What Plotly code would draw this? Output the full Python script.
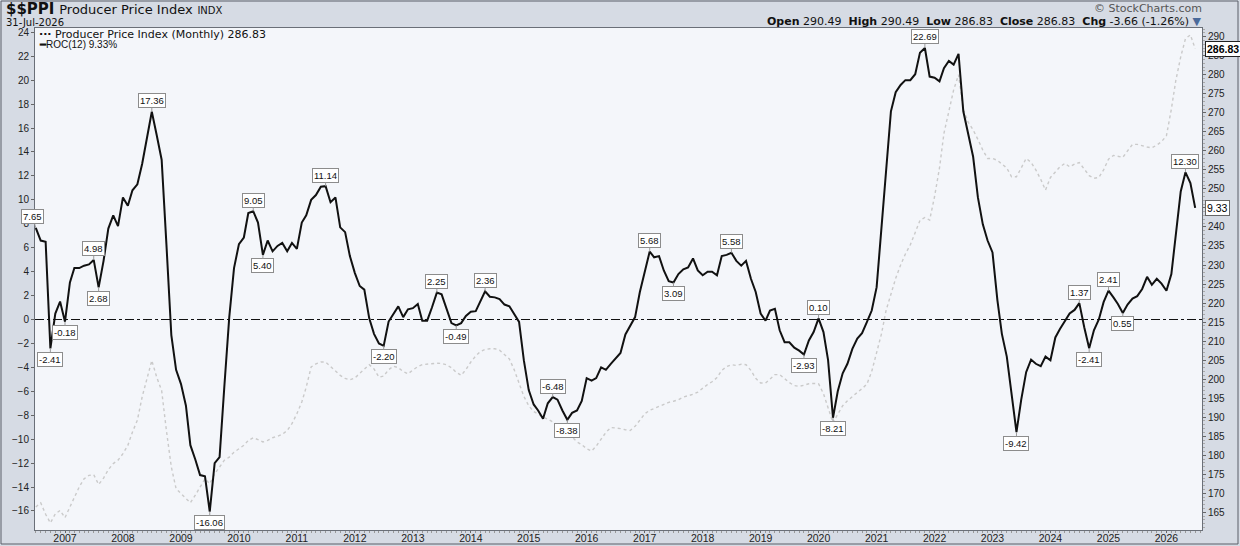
"""
$$PPI monthly chart: ROC(12) of the Producer Price Index (left axis, black)
with the index itself as a faint dotted line on the right axis.
"""

import pandas as pd
import plotly.graph_objects as go

START = "2006-07-01"

# ROC(12) in %, one value per month, Jul 2006 .. Jul 2026
ROC_2006 = [7.65, 6.6, 6.5, -2.41, 0.5, 1.5]
ROC_2007 = [-0.18, 3.1, 4.3, 4.3, 4.5, 4.6, 4.98, 2.68, 4.9, 7.6, 8.7, 7.8]
ROC_2008 = [10.2, 9.5, 10.8, 11.3, 13.0, 15.2, 17.36, 15.4, 13.35, 6.3, -1.3, -4.2]
ROC_2009 = [-5.4, -7.2, -10.5, -11.7, -13.0, -13.1, -16.06, -12.0, -11.5, -5.6, 0.2, 4.3]
ROC_2010 = [6.3, 6.85, 8.9, 9.05, 8.1, 5.40, 6.6, 5.7, 6.15, 6.4, 5.7, 6.4]
ROC_2011 = [5.9, 8.1, 8.7, 10.0, 10.4, 11.1, 11.14, 9.8, 10.2, 7.7, 7.3, 5.3]
ROC_2012 = [3.9, 2.8, 2.5, 0.1, -1.2, -2.0, -2.20, -0.17, 0.5, 1.1, 0.2, 0.85]
ROC_2013 = [0.95, 1.3, -0.1, -0.1, 1.0, 2.25, 2.1, 0.9, -0.3, -0.49, -0.3, 0.3]
ROC_2014 = [0.65, 0.7, 1.45, 2.36, 1.9, 1.85, 1.7, 1.25, 1.1, 0.5, -0.2, -3.4]
ROC_2015 = [-5.9, -7.1, -7.6, -8.3, -7.0, -6.48, -6.7, -7.6, -8.38, -7.8, -7.6, -6.8]
ROC_2016 = [-4.9, -5.1, -4.9, -4.0, -4.2, -3.7, -3.3, -2.8, -1.25, -0.5, 0.2, 2.3]
ROC_2017 = [4.0, 5.68, 5.2, 5.3, 4.1, 3.2, 3.09, 3.8, 4.2, 4.35, 5.1, 4.1]
ROC_2018 = [3.7, 4.0, 4.0, 3.7, 5.3, 5.4, 5.58, 4.9, 4.5, 4.9, 3.4, 2.3]
ROC_2019 = [0.5, -0.1, 0.75, 0.9, -0.9, -1.9, -1.9, -2.35, -2.6, -2.93, -1.75, -1.05]
ROC_2020 = [0.10, -1.05, -3.4, -8.21, -6.0, -4.5, -3.7, -2.45, -1.6, -1.15, -0.2, 0.75]
ROC_2021 = [2.7, 7.9, 12.9, 17.4, 19.0, 19.6, 20.0, 20.0, 20.5, 22.3, 22.69, 20.3]
ROC_2022 = [20.2, 19.9, 21.0, 21.6, 21.3, 22.2, 17.4, 15.4, 13.6, 10.2, 7.95, 6.6]
ROC_2023 = [5.6, 1.6, -1.2, -3.1, -6.2, -9.42, -6.7, -4.4, -3.35, -3.7, -3.9, -3.1]
ROC_2024 = [-3.4, -1.5, -0.8, -0.1, 0.5, 0.8, 1.37, -0.65, -2.41, -0.9, 0.0, 1.45]
ROC_2025 = [2.41, 1.85, 1.3, 0.55, 1.25, 1.75, 1.95, 2.55, 3.57, 2.9, 3.4, 3.0]
ROC_2026 = [2.4, 3.8, 7.1, 10.7, 12.30, 11.4, 9.33]

# Producer Price Index level, same months
PPI_2006 = [166.4, 167.5, 164.5, 162.2, 164.6, 165.5]
PPI_2007 = [163.6, 166.4, 168.6, 171.7, 173.8, 174.7, 174.9, 172.3, 174.0, 176.2, 177.8, 178.7]
PPI_2008 = [180.4, 182.6, 186.1, 189.2, 195.3, 200.1, 204.9, 200.5, 197.0, 186.5, 176.9, 171.2]
PPI_2009 = [169.9, 168.6, 167.5, 169.5, 171.7, 173.8, 172.5, 175.1, 176.9, 178.7, 179.5, 180.8]
PPI_2010 = [181.7, 182.6, 183.9, 184.6, 184.1, 183.5, 183.9, 184.6, 185.0, 185.5, 186.5, 188.3]
PPI_2011 = [190.9, 194.0, 197.9, 203.2, 204.0, 204.5, 204.5, 203.3, 201.9, 201.0, 200.2, 199.8]
PPI_2012 = [200.3, 201.5, 202.8, 203.8, 202.7, 200.5, 200.8, 202.5, 203.4, 203.0, 202.0, 201.4]
PPI_2013 = [202.4, 203.3, 203.8, 204.0, 204.0, 204.2, 204.1, 203.8, 203.0, 201.8, 201.0, 202.5]
PPI_2014 = [204.5, 206.1, 207.2, 207.8, 208.0, 208.0, 207.6, 206.5, 205.3, 202.5, 199.2, 195.5]
PPI_2015 = [193.0, 191.5, 190.8, 190.0, 189.5, 188.8, 188.0, 186.5, 185.7, 184.8, 183.5, 182.8]
PPI_2016 = [181.7, 181.1, 182.4, 184.1, 186.0, 187.3, 187.2, 187.0, 186.7, 186.5, 187.6, 189.3]
PPI_2017 = [190.9, 191.8, 192.3, 193.0, 193.5, 193.9, 194.2, 194.6, 195.3, 195.6, 196.0, 196.6]
PPI_2018 = [197.7, 198.6, 199.3, 200.4, 202.3, 203.3, 203.8, 203.6, 203.9, 203.8, 202.3, 200.2]
PPI_2019 = [199.0, 199.0, 200.0, 201.2, 201.2, 200.0, 199.1, 198.3, 198.1, 198.4, 198.8, 198.9]
PPI_2020 = [198.8, 196.2, 192.5, 188.5, 190.8, 193.0, 194.3, 195.5, 196.5, 197.5, 198.7, 202.0]
PPI_2021 = [207.2, 212.0, 218.0, 222.4, 226.5, 230.0, 232.9, 235.3, 238.5, 241.7, 242.5, 241.8]
PPI_2022 = [248.0, 255.5, 264.6, 270.7, 276.0, 280.0, 271.0, 267.5, 265.5, 263.0, 260.2, 258.0]
PPI_2023 = [258.0, 257.5, 256.5, 255.5, 253.2, 253.2, 255.5, 258.0, 257.0, 255.0, 252.5, 249.7]
PPI_2024 = [253.0, 254.5, 255.8, 256.7, 255.8, 256.5, 256.9, 255.2, 253.5, 252.8, 253.0, 255.0]
PPI_2025 = [257.8, 258.8, 258.6, 258.3, 260.0, 261.7, 261.7, 261.3, 261.0, 260.8, 261.5, 262.4]
PPI_2026 = [264.0, 271.0, 278.5, 284.7, 289.5, 290.49, 286.83]

ROC = (ROC_2006 + ROC_2007 + ROC_2008 + ROC_2009 + ROC_2010 + ROC_2011 + ROC_2012
       + ROC_2013 + ROC_2014 + ROC_2015 + ROC_2016 + ROC_2017 + ROC_2018 + ROC_2019
       + ROC_2020 + ROC_2021 + ROC_2022 + ROC_2023 + ROC_2024 + ROC_2025 + ROC_2026)
PPI = (PPI_2006 + PPI_2007 + PPI_2008 + PPI_2009 + PPI_2010 + PPI_2011 + PPI_2012
       + PPI_2013 + PPI_2014 + PPI_2015 + PPI_2016 + PPI_2017 + PPI_2018 + PPI_2019
       + PPI_2020 + PPI_2021 + PPI_2022 + PPI_2023 + PPI_2024 + PPI_2025 + PPI_2026)

# peak / trough labels on the ROC line: month index, +1 box above, -1 below
PEAKS = [(0, 1), (3, -1), (6, -1), (12, 1), (13, -1), (24, 1), (36, -1), (45, 1),
         (47, -1), (60, 1), (72, -1), (83, 1), (87, -1), (93, 1), (107, 1),
         (110, -1), (127, 1), (132, -1), (144, 1), (159, -1), (162, 1), (165, -1),
         (184, 1), (203, -1), (216, 1), (218, -1), (222, 1), (225, -1), (238, 1)]

PPI_TICKS = list(range(165, 291, 5))
ROC_TICKS = list(range(-16, 25, 2))

PAPER_BG = "#d6dbe4"
PLOT_BG  = "#f4f6fa"
TICK_FNT = dict(family="Liberation Sans", size=10, color="#222")
HEAD_FNT = "DejaVu Sans"


def px_x(p):
    # pixel column -> paper x (plot runs from 35 to 1202)
    return (p - 35) / 1167


def px_y(p):
    # pixel row -> paper y (plot runs from 28 to 530)
    return (530 - p) / 502


def main():
    dates = pd.date_range(START, periods=len(ROC), freq="MS")

    fig = go.Figure()
    fig.add_trace(go.Scatter(
        x=dates, y=PPI, yaxis="y", mode="lines",
        line=dict(color="#cacaca", width=1.4, dash="dot"),
        hoverinfo="skip", showlegend=False,
    ))
    fig.add_trace(go.Scatter(
        x=dates, y=ROC, yaxis="y2", mode="lines",
        line=dict(color="#111111", width=2),
        showlegend=False,
    ))

    # dash-dot zero line of the ROC
    fig.add_shape(type="line", xref="paper", x0=0, x1=1, yref="y2", y0=0, y1=0,
                  line=dict(color="#111", width=1, dash="dashdot"), layer="below")
    # outer frame of the picture
    fig.add_shape(type="rect", xref="paper", yref="paper",
                  x0=px_x(1), x1=px_x(1238), y0=px_y(544), y1=px_y(1),
                  line=dict(color="#5a5f68", width=1))

    ann = []
    for i, side in PEAKS:
        ann.append(dict(
            x=dates[i], y=ROC[i], xref="x", yref="y2", text=f"{ROC[i]:.2f}",
            showarrow=True, arrowhead=0, arrowwidth=1, arrowcolor="#9a9a9a",
            ax=-3 if i == 0 else 0, ay=-11 if side > 0 else 11,
            bgcolor="white", bordercolor="#8c8c8c", borderwidth=1, borderpad=1,
            font=dict(family="Liberation Sans", size=9.5, color="#111"),
        ))

    # last-value tags on the right edge
    ann.append(dict(x=1, xref="paper", y=PPI[-1], yref="y", xanchor="left", xshift=3,
                    text=f"<b>{PPI[-1]:.2f}</b>", showarrow=False,
                    bgcolor="white", bordercolor="#222", borderwidth=1, borderpad=1,
                    font=dict(family="Liberation Sans", size=10.5, color="#000")))
    ann.append(dict(x=1, xref="paper", y=ROC[-1], yref="y2", xanchor="left", xshift=3,
                    text=f"{ROC[-1]:.2f}", showarrow=False,
                    bgcolor="white", bordercolor="#666", borderwidth=1, borderpad=1,
                    font=dict(family="Liberation Sans", size=10.5, color="#000")))

    # legend lines inside the plot
    ann.append(dict(x=px_x(37), y=px_y(35), xref="paper", yref="paper",
                    xanchor="left", yanchor="middle", showarrow=False,
                    text=f"<b>···</b> Producer Price Index (Monthly) {PPI[-1]:.2f}",
                    font=dict(family=HEAD_FNT, size=11, color="#111")))
    ann.append(dict(x=px_x(37), y=px_y(45), xref="paper", yref="paper",
                    xanchor="left", yanchor="middle", showarrow=False,
                    text=f"<b>━</b>ROC(12) {ROC[-1]:.2f}%",
                    font=dict(family="Liberation Sans", size=10, color="#111")))

    # header
    ann.append(dict(x=px_x(4), y=px_y(9), xref="paper", yref="paper",
                    xanchor="left", yanchor="middle", showarrow=False,
                    text="<b>$$PPI</b> <span style='font-size:13px'>Producer Price Index</span>"
                         " <span style='font-size:10px'>INDX</span>",
                    font=dict(family=HEAD_FNT, size=15, color="#111")))
    ann.append(dict(x=px_x(4), y=px_y(22), xref="paper", yref="paper",
                    xanchor="left", yanchor="middle", showarrow=False,
                    text=dates[-1].strftime("%d-%b-%Y").replace("01-", "31-", 1),
                    font=dict(family=HEAD_FNT, size=10, color="#111")))
    ann.append(dict(x=px_x(1204), y=px_y(8), xref="paper", yref="paper",
                    xanchor="right", yanchor="middle", showarrow=False,
                    text="© StockCharts.com",
                    font=dict(family=HEAD_FNT, size=11, color="#555")))
    chg = PPI[-1] - PPI[-2]
    ann.append(dict(x=px_x(1204), y=px_y(21), xref="paper", yref="paper",
                    xanchor="right", yanchor="middle", showarrow=False,
                    text=(f"<b>Open</b> {PPI[-2]:.2f}  <b>High</b> {PPI[-2]:.2f}  "
                          f"<b>Low</b> {PPI[-1]:.2f}  <b>Close</b> {PPI[-1]:.2f}  "
                          f"<b>Chg</b> {chg:.2f} ({chg / PPI[-2] * 100:.2f}%) "
                          "<span style='color:#4a6a9a'>▼</span>"),
                    font=dict(family=HEAD_FNT, size=11, color="#111")))

    fig.update_layout(
        width=1240, height=546,
        margin=dict(l=35, r=38, t=28, b=16),
        paper_bgcolor=PAPER_BG, plot_bgcolor=PLOT_BG,
        showlegend=False,
        annotations=ann,
        xaxis=dict(
            type="date", range=["2006-06-26", "2026-08-13"], automargin=False,
            tick0="2007-01-01", dtick="M12", tickformat="%Y",
            ticks="outside", ticklen=2, tickcolor="#666", ticklabelstandoff=-4,
            minor=dict(dtick="M1", ticks="outside", ticklen=2, tickcolor="#999"),
            showline=True, linecolor="#6a6f78", mirror=True,
            showgrid=False, zeroline=False,
            tickfont=dict(family="Liberation Sans", size=10.5, color="#222"),
        ),
        yaxis=dict(
            side="right", range=[160.35, 292.29], automargin=False,
            tickvals=PPI_TICKS, ticks="outside", ticklen=3, tickcolor="#666",
            minor=dict(dtick=1, ticks="outside", ticklen=2, tickcolor="#aaa"),
            showline=True, linecolor="#6a6f78",
            showgrid=False, zeroline=False, tickfont=TICK_FNT,
        ),
        yaxis2=dict(
            side="left", overlaying="y", range=[-17.59, 24.36], automargin=False,
            tickvals=ROC_TICKS, ticks="outside", ticklen=3, tickcolor="#666",
            showline=True, linecolor="#6a6f78",
            showgrid=False, zeroline=False, tickfont=TICK_FNT,
        ),
    )

    # the page body has an 8px default margin; drop it so the chart sits at 0,0
    fig.write_html("out.html", config={"displayModeBar": False},
                   post_script="document.body.style.margin='0px';")


if __name__ == "__main__":
    main()
